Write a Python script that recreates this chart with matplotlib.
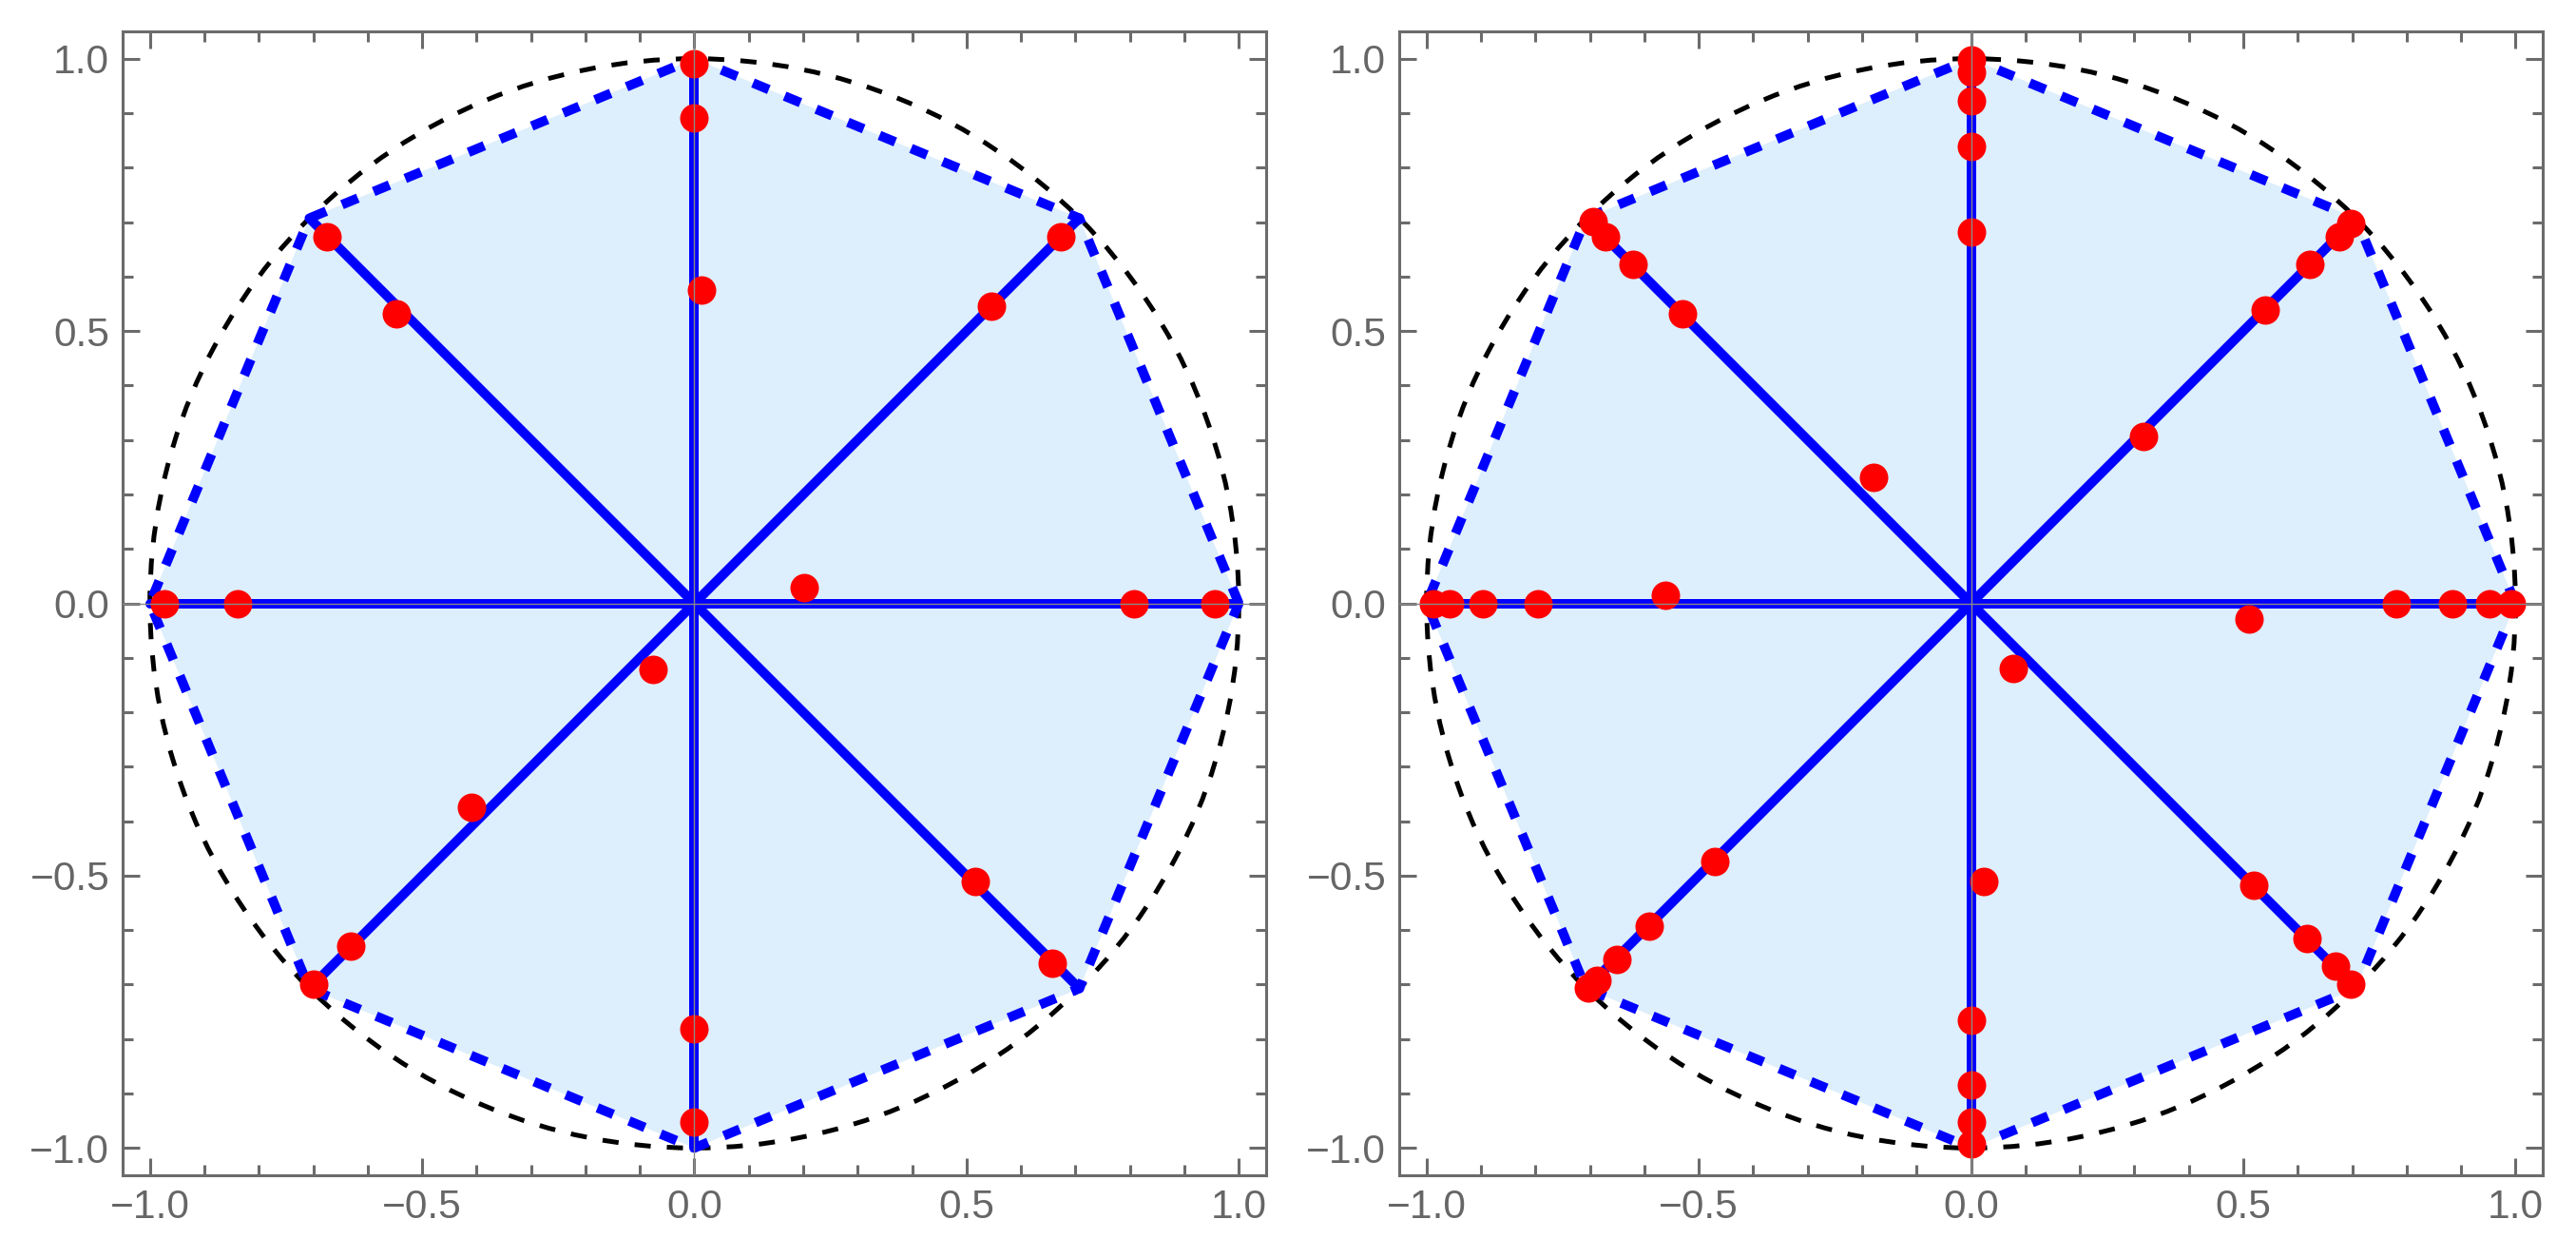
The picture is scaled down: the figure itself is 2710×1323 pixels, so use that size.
import numpy as np
import matplotlib.pyplot as plt
from matplotlib.patches import Circle, Polygon

# spoke directions (degrees) and radius of the octagon
spoke_angles = [0, 45, 90, 135, 180, 225, 270, 315]
spoke_radius = 1.0

# red points, left panel
left_x = [0.0, 0.0, 0.014, -0.674, -0.547, 0.673, 0.546, 0.201, -0.973, -0.839,
          0.807, 0.955, -0.076, -0.410, -0.631, -0.699, 0.516, 0.658, 0.0, 0.0]
left_y = [0.991, 0.892, 0.576, 0.673, 0.531, 0.673, 0.546, 0.029, 0.0, 0.0,
          0.0, 0.0, -0.121, -0.374, -0.630, -0.699, -0.511, -0.661, -0.781, -0.953]

# red points, right panel
right_x = [0.0, 0.0, 0.0, 0.0, 0.0, -0.694, -0.672, -0.621, -0.530, -0.179,
           0.317, 0.541, 0.622, 0.676, 0.697, -0.987, -0.957, -0.897, -0.795, -0.561,
           0.781, 0.884, 0.953, 0.992, 0.511, 0.077, -0.471, -0.591, -0.650, -0.687,
           -0.702, 0.024, 0.519, 0.617, 0.669, 0.698, 0.0, 0.0, 0.0, 0.0]
right_y = [0.998, 0.975, 0.922, 0.839, 0.681, 0.701, 0.673, 0.622, 0.532, 0.232,
           0.307, 0.539, 0.622, 0.673, 0.698, 0.0, 0.0, 0.0, 0.0, 0.014,
           0.0, 0.0, 0.0, 0.0, -0.029, -0.120, -0.474, -0.593, -0.653, -0.693,
           -0.706, -0.511, -0.518, -0.615, -0.666, -0.699, -0.765, -0.885, -0.952, -0.992]

ticks = [-1.0, -0.5, 0.0, 0.5, 1.0]
tick_labels = ["\u22121.0", "\u22120.5", "0.0", "0.5", "1.0"]

frame_gray = "#6b6b6b"
fill_blue = "#ddeefc"
plt.rcParams['font.family'] = ['Liberation Sans', 'DejaVu Sans']

fig = plt.figure(figsize=(13.55, 6.615), dpi=200)
ax_left = fig.add_axes([0.0476, 0.0658, 0.4439, 0.9092])
ax_right = fig.add_axes([0.5432, 0.0658, 0.4439, 0.9092])


def draw_panel(ax, px, py):
    ang = np.deg2rad(spoke_angles)
    vx = spoke_radius * np.cos(ang)
    vy = spoke_radius * np.sin(ang)

    ax.add_patch(Polygon(np.column_stack([vx, vy]), closed=True,
                         facecolor=fill_blue, edgecolor='none', zorder=1))
    ax.add_patch(Circle((0, 0), 1.0, fill=False, edgecolor='black', lw=1.8,
                        linestyle=(0, (3.4, 3.4)), zorder=2))
    ox = np.append(vx, vx[0])
    oy = np.append(vy, vy[0])
    ax.plot(ox, oy, color='blue', lw=3.6, linestyle=(0, (1.8, 1.8)),
            dash_capstyle='butt', zorder=3)
    for x, y in zip(vx, vy):
        ax.plot([0, x], [0, y], color='blue', lw=3.6,
                solid_capstyle='round', zorder=4)
    ax.plot(px, py, 'o', color='red', markersize=10.8, markeredgewidth=0,
            zorder=5)

    # axes through origin, drawn on top
    ax.axhline(0, color='#8a8a8a', lw=0.5, zorder=6)
    ax.axvline(0, color='#8a8a8a', lw=0.5, zorder=6)

    ax.set_xlim(-1.05, 1.05)
    ax.set_ylim(-1.05, 1.05)
    ax.set_aspect('equal')
    ax.set_xticks(ticks)
    ax.set_xticklabels(tick_labels)
    ax.set_yticks(ticks)
    ax.set_yticklabels(tick_labels)
    ax.set_xticks(np.arange(-1.0, 1.01, 0.1), minor=True)
    ax.set_yticks(np.arange(-1.0, 1.01, 0.1), minor=True)
    ax.tick_params(which='both', direction='in', top=True, right=True,
                   color=frame_gray, width=1.1, labelcolor='#666666',
                   labelsize=15.3, pad=5)
    ax.tick_params(which='major', length=6.5)
    ax.tick_params(which='minor', length=4)
    for s in ax.spines.values():
        s.set_color(frame_gray)
        s.set_linewidth(1.1)


draw_panel(ax_left, left_x, left_y)
draw_panel(ax_right, right_x, right_y)

fig.savefig("out.png", dpi=200)
